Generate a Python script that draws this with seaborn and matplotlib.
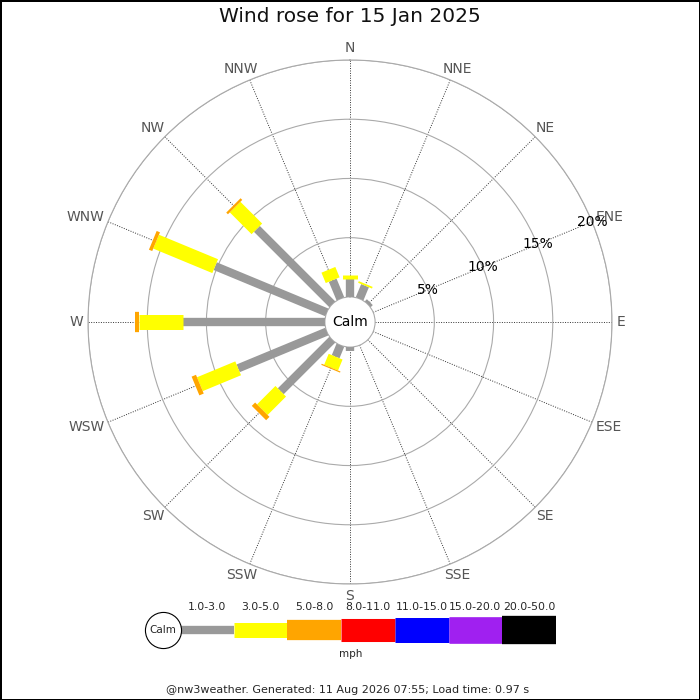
import numpy as np
import matplotlib
matplotlib.use('Agg')
import matplotlib.pyplot as plt
import seaborn as sns

# 16 compass points, clockwise from north
directions = ['N', 'NNE', 'NE', 'ENE', 'E', 'ESE', 'SE', 'SSE',
              'S', 'SSW', 'SW', 'WSW', 'W', 'WNW', 'NW', 'NNW']
# percentage of time per speed class (mph)
speed_1_3 = [1.5, 1.2, 0.25, 0, 0, 0, 0, 0, 0.3, 1.05, 6.15, 8.1, 12.0, 10.2, 9.0, 1.7]
speed_3_5 = [0.35, 0.15, 0, 0, 0, 0, 0, 0, 0.02, 1.0, 2.2, 3.5, 3.7, 5.4, 2.6, 0.95]
speed_5_8 = [0, 0, 0, 0, 0, 0, 0, 0, 0.05, 0.1, 0.4, 0.4, 0.3, 0.3, 0.2, 0]
speed_classes = ['1.0-3.0', '3.0-5.0', '5.0-8.0', '8.0-11.0',
                 '11.0-15.0', '15.0-20.0', '20.0-50.0']
class_colors = ['#999999', '#ffff00', '#ffa500', '#ff0000',
                '#0000ff', '#a020f0', '#000000']
class_widths = [6.0, 10.8, 14.6, 16.6, 18.0, 19.2, 20.4]   # points
ring_pct = [5, 10, 15, 20]

sns.set_style('white')
plt.rcParams['font.family'] = ['DejaVu Sans']

DPI = 100
fig = plt.figure(figsize=(7, 7), dpi=DPI, edgecolor='black', linewidth=2)

# ---- rose ----
ax = fig.add_axes([88 / 700, 116 / 700, 524 / 700, 524 / 700], projection='polar')
ax.set_theta_zero_location('N')
ax.set_theta_direction(-1)
ax.set_ylim(0, 20)
ax.set_rorigin(-2.12)

angles = np.arange(16) * 22.5
ax.set_thetagrids(angles, [''] * 16)
ax.set_rgrids(ring_pct, labels=[''] * len(ring_pct))
ax.xaxis.grid(True, color='#333333', linestyle=(0, (1, 1.5)), linewidth=0.7)
ax.yaxis.grid(True, color='#aaaaaa', linestyle='-', linewidth=0.8)
for sp in ax.spines.values():
    sp.set_color('#aaaaaa')
    sp.set_linewidth(0.8)
ax.set_axisbelow(True)

theta = np.deg2rad(angles)
series = [speed_1_3, speed_3_5, speed_5_8]
cum = np.zeros(16)
for vals, col, lw in zip(series, class_colors, class_widths):
    vals = np.asarray(vals, dtype=float)
    for t, r0, v in zip(theta, cum, vals):
        if v > 0:
            ax.plot([t, t], [r0, r0 + v], color=col, linewidth=lw,
                    solid_capstyle='butt', zorder=3)
    cum = cum + vals

for p in ring_pct:
    ax.text(np.deg2rad(67.5), p, f'{p}%', ha='center', va='center',
            fontsize=10, color='black', zorder=4)

ax.text(0.5, 0.5, 'Calm', transform=ax.transAxes, ha='center', va='center',
        fontsize=10, color='black')

# direction labels: pushed out from the spoke end and aligned by angle
renderer = fig.canvas.get_renderer()
pad_px = 5
for t, lab in zip(theta, directions):
    txt = ax.annotate(lab, xy=(t, 20), xycoords='data', xytext=(0, 0),
                      textcoords='offset points', ha='center', va='center',
                      fontsize=10, color='#555555', annotation_clip=False)
    bb = txt.get_window_extent(renderer)
    w, h = bb.width, bb.height
    dx = np.sin(t) * (pad_px + w / 2)
    dy = np.cos(t) * (pad_px + h / 2)
    txt.xyann = (dx * 72 / DPI, dy * 72 / DPI)

# ---- legend ----
lax = fig.add_axes([140 / 700, 40 / 700, 420 / 700, 60 / 700])
lax.set_xlim(-0.745, 7.076)
lax.set_ylim(-1, 1)
lax.axis('off')
for i, (lab, col, lw) in enumerate(zip(speed_classes, class_colors, class_widths)):
    lax.plot([i, i + 1], [0, 0], color=col, linewidth=lw, solid_capstyle='butt')
    lax.text(i + 0.5, 0.77, lab, ha='center', va='center', fontsize=7.8)
lax.plot([-0.317], [0], marker='o', markersize=26, markerfacecolor='white',
         markeredgecolor='black', markeredgewidth=0.8, zorder=5)
lax.text(-0.317, 0, 'Calm', ha='center', va='center', fontsize=7.5, zorder=6)

fig.text(351 / 700, 1 - 654 / 700, 'mph', ha='center', va='center', fontsize=7.5)
fig.text(0.5, 1 - 17 / 700, 'Wind rose for 15 Jan 2025', ha='center',
         va='center', fontsize=14.5, color='#111111')
fig.text(348 / 700, 1 - 690 / 700,
         '@nw3weather. Generated: 11 Aug 2026 07:55; Load time: 0.97 s',
         ha='center', va='center', fontsize=8)

fig.savefig('out.png', dpi=DPI, edgecolor=fig.get_edgecolor())
